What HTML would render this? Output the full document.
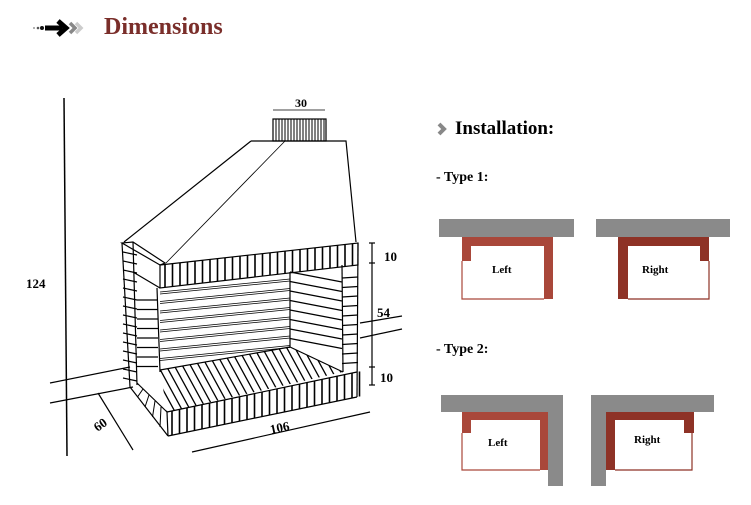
<!DOCTYPE html>
<html><head><meta charset="utf-8"><style>
html,body{margin:0;padding:0;background:#fff;}
body{width:751px;height:505px;position:relative;overflow:hidden;font-family:"Liberation Serif",serif;}
.t{position:absolute;font-weight:bold;white-space:nowrap;}
</style></head><body>
<svg width="751" height="505" style="position:absolute;left:0;top:0" id="s" xmlns="http://www.w3.org/2000/svg">
<defs><clipPath id="fl"><polygon points="160,370 290,347 343,372 167,412"/></clipPath></defs>
<circle cx="34" cy="28" r="1" fill="#999"/><circle cx="38" cy="28" r="1.3" fill="#555"/><circle cx="42" cy="28" r="2" fill="#111"/>
<line x1="45" y1="28" x2="62" y2="28" stroke="#000" stroke-width="5"/>
<polyline points="58,21 66,28 58,35" fill="none" stroke="#000" stroke-width="5"/>
<polyline points="70,23 75,28 70,33" fill="none" stroke="#888" stroke-width="3.5"/>
<polyline points="76,23 81,28 76,33" fill="none" stroke="#ccc" stroke-width="3.5"/>
<polyline points="439,124 444,129 439,134" fill="none" stroke="#888" stroke-width="4"/>

<g stroke="#000" fill="none" stroke-width="1.2">
<line x1="64" y1="98" x2="67" y2="456" stroke-width="1.5"/>
<line x1="273" y1="110" x2="325" y2="110" stroke-width="0.8"/>
<rect x="273" y="119" width="53" height="22" fill="#fff"/>
<polyline points="251,141 346,141 356,242"/>
<line x1="251" y1="141" x2="124" y2="242"/>
<line x1="285" y1="141" x2="166" y2="263" stroke-width="0.8"/>
<polygon points="122,243 133,242 165,263 160,265" fill="#fff"/>
<polygon points="160,265 358,243 358,265 160,288" fill="#fff"/>
<line x1="133" y1="272" x2="160" y2="288"/>
<line x1="122" y1="243" x2="130" y2="387"/>
<line x1="133" y1="242" x2="137" y2="385"/>
<line x1="157" y1="288" x2="160" y2="372"/>
<line x1="342" y1="265" x2="343" y2="372"/>
<line x1="358" y1="243" x2="357" y2="397"/>
<line x1="290" y1="272" x2="290" y2="347"/>
<line x1="160" y1="370" x2="290" y2="347"/>
<line x1="290" y1="347" x2="343" y2="372"/>
<line x1="130" y1="387" x2="168" y2="436"/>
<line x1="137" y1="383" x2="167" y2="412"/>
<line x1="167" y1="412" x2="357" y2="372"/>
<line x1="168" y1="436" x2="357" y2="397"/>
<line x1="167" y1="412" x2="168" y2="436"/>
<line x1="50" y1="383" x2="130" y2="367"/>
<line x1="50" y1="403" x2="133" y2="387"/>
<line x1="360" y1="323" x2="402" y2="316"/>
<line x1="360" y1="338" x2="402" y2="329"/>
<line x1="98" y1="393" x2="133" y2="450"/>
<line x1="192" y1="452" x2="370" y2="412"/>
<line x1="372" y1="243" x2="372" y2="385"/>
<line x1="369" y1="243" x2="375" y2="243"/><line x1="369" y1="263" x2="375" y2="263"/>
<line x1="369" y1="367" x2="375" y2="367"/><line x1="369" y1="385" x2="375" y2="385"/>
</g>
<g id="gen" stroke="#000" fill="none"></g>
<g id="floor" stroke="#000" fill="none" clip-path="url(#fl)"></g>

<g>
<rect x="439" y="219" width="135" height="18" fill="#8a8a8a"/>
<polygon points="462,237 553,237 553,299 544,299 544,246 471,246 471,261 462,261" fill="#a9473a"/>
<polyline points="462,261 462,299 544,299" fill="none" stroke="#a9473a" stroke-width="1.2"/>
<rect x="596" y="219" width="134" height="18" fill="#8a8a8a"/>
<polygon points="618,237 709,237 709,261 700,261 700,246 628,246 628,299 618,299" fill="#8e3226"/>
<polyline points="628,299 709,299 709,261" fill="none" stroke="#8e3226" stroke-width="1.2"/>
<polygon points="441,395 563,395 563,486 548,486 548,412 441,412" fill="#8a8a8a"/>
<polygon points="462,412 548,412 548,470 540,470 540,420 471,420 471,433 462,433" fill="#a9473a"/>
<polyline points="462,433 462,470 540,470" fill="none" stroke="#a9473a" stroke-width="1.2"/>
<polygon points="591,395 714,395 714,412 606,412 606,486 591,486" fill="#8a8a8a"/>
<polygon points="606,412 694,412 694,433 684,433 684,420 615,420 615,470 606,470" fill="#8e3226"/>
<polyline points="615,470 692,470 692,433" fill="none" stroke="#8e3226" stroke-width="1.2"/>
</g>
</svg>
<div class="t" style="left:104px;top:14px;font-size:24px;color:#7a2e2a;">Dimensions</div>
<div class="t" style="left:455px;top:118px;font-size:19px;">Installation:</div>
<div class="t" style="left:436px;top:170px;font-size:14px;">- Type 1:</div>
<div class="t" style="left:436px;top:342px;font-size:14px;">- Type 2:</div>
<div class="t" style="left:492px;top:264px;font-size:11px;">Left</div>
<div class="t" style="left:642px;top:264px;font-size:11px;">Right</div>
<div class="t" style="left:488px;top:437px;font-size:11px;">Left</div>
<div class="t" style="left:634px;top:434px;font-size:11px;">Right</div>
<div class="t" style="left:295px;top:96px;font-size:12px;">30</div>
<div class="t" style="left:26px;top:276px;font-size:13px;">124</div>
<div class="t" style="left:384px;top:249px;font-size:13px;">10</div>
<div class="t" style="left:377px;top:305px;font-size:13px;">54</div>
<div class="t" style="left:380px;top:370px;font-size:13px;">10</div>
<div class="t" style="left:94px;top:417px;font-size:13px;transform:rotate(-35deg);">60</div>
<div class="t" style="left:270px;top:420px;font-size:13px;transform:rotate(-12deg);">106</div>
<script>
var g=document.getElementById('gen'),h='';
function L(a,b,c,d,w){return '<line x1="'+a+'" y1="'+b+'" x2="'+c+'" y2="'+d+'" stroke-width="'+(w||1)+'"/>';}
for(var x=276;x<326;x+=3)h+=L(x,119,x,141,1);
for(var i=0;i<26;i++){var x=165+i*7.5,yt=265-(x-160)*22/198,yb=288-(x-160)*23/198;h+=L(x,yt,x,yb,1.6);}
for(var y=292;y<365;y+=9.5){h+=L(160,y,290,y-13,0.8);h+=L(160,y+2,290,y-11,0.8);}
for(var y=272;y<345;y+=9.5)h+=L(290,y,342,y+10,1.3);
for(var y=278;y<372;y+=9.5)h+=L(342,y,358,y-1,1.2);
for(var y=252;y<385;y+=9)h+=L(123,y,137,y+3,1.2);
for(var y=300;y<372;y+=9.5)h+=L(137,y,158,y,1.2);
for(var i=0;i<26;i++){var x=172+i*7.5,yt=412-(x-167)*40/190,yb=436-(x-167)*39/190;h+=L(x,yt,x,yb,1.6);}
for(var i=1;i<5;i++){h+=L(130+i*7.5,387+i*10,137+i*6,383+i*6,1);}
g.innerHTML=h;
var f='';
for(var i=-6;i<32;i++){var t=i/26,fx=167+t*190,fy=412-t*40;f+=L(fx,fy,fx-30,fy-55,1.3);}
document.getElementById('floor').innerHTML=f;
</script>
</body></html>
